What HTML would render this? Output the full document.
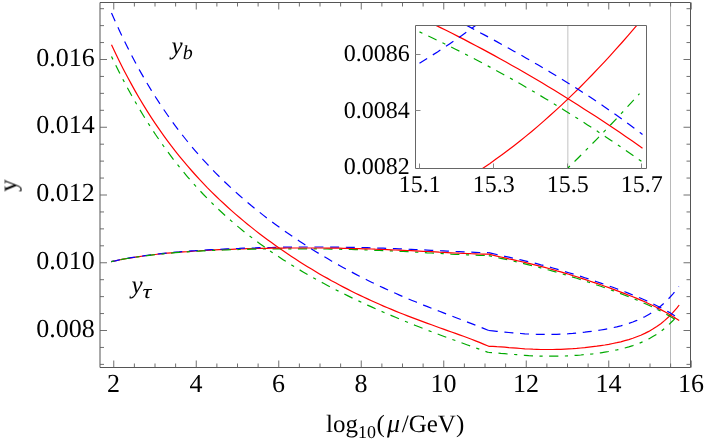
<!DOCTYPE html>
<html><head><meta charset="utf-8"><title>plot</title>
<style>html,body{margin:0;padding:0;background:#fff}svg{display:block}.t{font-family:"Liberation Serif",serif;fill:#000;text-rendering:geometricPrecision;opacity:.999}</style></head>
<body>
<svg width="708" height="444" viewBox="0 0 708 444">
<rect width="708" height="444" fill="#fff"/>
<defs><clipPath id="cm"><rect x="100.0" y="2.5" width="590.5" height="365.0"/></clipPath>
<clipPath id="ci"><rect x="415.5" y="25.5" width="231.0" height="143.0"/></clipPath></defs>
<line x1="670.5" y1="2.5" x2="670.5" y2="367.5" stroke="#b8b8b8" stroke-width="1"/>
<g clip-path="url(#cm)" fill="none" stroke-width="1.20">
<path d="M111.5 44.7 115.5 53.3 119.5 61.5 123.5 69.4 127.5 77.0 131.5 84.4 135.5 91.6 139.5 98.5 143.5 105.1 147.5 111.6 151.5 117.8 155.5 123.8 159.5 129.7 163.5 135.3 167.5 140.8 171.5 146.2 175.5 151.3 179.5 156.3 183.5 161.2 187.5 165.9 191.5 170.5 195.5 175.0 199.5 179.4 203.5 183.6 207.5 187.8 211.5 191.8 215.5 195.7 219.5 199.6 223.5 203.3 227.5 207.0 231.5 210.6 235.5 214.1 239.5 217.5 243.5 220.9 247.5 224.2 251.5 227.4 255.5 230.6 259.5 233.7 263.5 236.7 267.5 239.7 271.5 242.6 275.5 245.5 279.5 248.3 283.5 251.1 287.5 253.8 291.5 256.5 295.5 259.1 299.5 261.7 303.5 264.2 307.5 266.7 311.5 269.1 315.5 271.5 319.5 273.9 323.5 276.2 327.5 278.4 331.5 280.7 335.5 282.8 339.5 285.0 343.5 287.1 347.5 289.1 351.5 291.2 355.5 293.2 359.5 295.1 363.5 297.0 367.5 298.9 371.5 300.7 375.5 302.5 379.5 304.3 383.5 306.1 387.5 307.8 391.5 309.4 395.5 311.1 399.5 312.7 403.5 314.3 407.5 315.9 411.5 317.4 415.5 318.9 419.5 320.4 423.5 321.9 427.5 323.4 431.5 324.8 435.5 326.3 439.5 327.7 443.5 329.1 447.5 330.6 451.5 332.0 455.5 333.4 459.5 334.9 463.5 336.3 467.5 337.8 471.5 339.3 475.5 340.9 479.5 342.4 483.5 344.1 487.5 345.7 488.8 346.3 492.8 346.4 496.8 346.7 500.8 346.9 504.8 347.2 508.8 347.6 512.8 347.9 516.8 348.2 520.8 348.5 524.8 348.8 528.8 349.0 532.8 349.2 536.8 349.3 540.8 349.5 544.8 349.5 548.8 349.5 552.8 349.5 556.8 349.4 560.8 349.3 564.8 349.1 568.8 348.9 572.8 348.7 576.8 348.4 580.8 348.0 584.8 347.7 588.8 347.2 592.8 346.7 596.8 346.2 600.8 345.6 604.8 345.0 608.8 344.3 612.8 343.5 616.8 342.7 620.8 341.8 624.8 340.7 628.8 339.6 632.8 338.3 636.8 336.8 640.8 335.2 644.8 333.4 648.8 331.4 652.8 329.1 656.8 326.5 660.8 323.7 664.8 320.4 668.8 316.8 672.8 312.7 676.8 308.2 679.2 305.0" stroke="#ff0000" stroke-linejoin="round"/>
<path d="M111.5 13.0 115.5 22.0 119.5 30.8 123.5 39.2 127.5 47.3 131.5 55.2 135.5 62.7 139.5 70.1 143.5 77.1 147.5 84.0 151.5 90.6 155.5 97.0 159.5 103.2 163.5 109.2 167.5 115.0 171.5 120.6 175.5 126.1 179.5 131.4 183.5 136.5 187.5 141.5 191.5 146.4 195.5 151.1 199.5 155.6 203.5 160.1 207.5 164.4 211.5 168.7 215.5 172.8 219.5 176.8 223.5 180.7 227.5 184.5 231.5 188.3 235.5 191.9 239.5 195.5 243.5 199.0 247.5 202.4 251.5 205.8 255.5 209.0 259.5 212.2 263.5 215.4 267.5 218.5 271.5 221.5 275.5 224.5 279.5 227.4 283.5 230.2 287.5 233.1 291.5 235.8 295.5 238.5 299.5 241.2 303.5 243.8 307.5 246.4 311.5 248.9 315.5 251.4 319.5 253.9 323.5 256.3 327.5 258.6 331.5 261.0 335.5 263.2 339.5 265.5 343.5 267.7 347.5 269.9 351.5 272.0 355.5 274.1 359.5 276.2 363.5 278.2 367.5 280.2 371.5 282.2 375.5 284.1 379.5 286.0 383.5 287.9 387.5 289.7 391.5 291.5 395.5 293.3 399.5 295.1 403.5 296.8 407.5 298.5 411.5 300.2 415.5 301.8 419.5 303.4 423.5 305.1 427.5 306.6 431.5 308.2 435.5 309.8 439.5 311.3 443.5 312.9 447.5 314.4 451.5 315.9 455.5 317.5 459.5 319.0 463.5 320.5 467.5 322.1 471.5 323.6 475.5 325.2 479.5 326.7 483.5 328.4 487.5 330.0 488.8 330.5" stroke="#0000ff" stroke-dasharray="9 6.7"/>
<path d="M488.8 330.5 492.8 330.9 496.8 331.3 500.8 331.7 504.8 332.1 508.8 332.5 512.8 332.9 516.8 333.2 520.8 333.5 524.8 333.8 528.8 334.0 532.8 334.2 536.8 334.3 540.8 334.4 544.8 334.4 548.8 334.4 552.8 334.4 556.8 334.3 560.8 334.1 564.8 333.9 568.8 333.7 572.8 333.4 576.8 333.0 580.8 332.6 584.8 332.2 588.8 331.7 592.8 331.2 596.8 330.7 600.8 330.0 604.8 329.3 608.8 328.6 612.8 327.7 616.8 326.8 620.8 325.8 624.8 324.7 628.8 323.4 632.8 322.0 636.8 320.4 640.8 318.6 644.8 316.7 648.8 314.4 652.8 312.0 656.8 309.2 660.8 306.0 664.8 302.5 668.8 298.5 672.8 294.1 676.8 289.2 678.8 286.5" stroke="#0000ff" stroke-dasharray="9 6.7"/>
<path d="M111.5 56.5 115.5 64.7 119.5 72.7 123.5 80.5 127.5 88.0 131.5 95.3 135.5 102.3 139.5 109.1 143.5 115.8 147.5 122.2 151.5 128.4 155.5 134.5 159.5 140.3 163.5 146.0 167.5 151.5 171.5 156.9 175.5 162.1 179.5 167.1 183.5 172.0 187.5 176.8 191.5 181.4 195.5 185.9 199.5 190.2 203.5 194.5 207.5 198.6 211.5 202.6 215.5 206.5 219.5 210.3 223.5 214.0 227.5 217.6 231.5 221.1 235.5 224.6 239.5 227.9 243.5 231.2 247.5 234.3 251.5 237.4 255.5 240.5 259.5 243.4 263.5 246.3 267.5 249.2 271.5 251.9 275.5 254.6 279.5 257.3 283.5 259.9 287.5 262.4 291.5 264.9 295.5 267.4 299.5 269.8 303.5 272.2 307.5 274.5 311.5 276.7 315.5 279.0 319.5 281.2 323.5 283.3 327.5 285.5 331.5 287.6 335.5 289.6 339.5 291.6 343.5 293.6 347.5 295.6 351.5 297.6 355.5 299.5 359.5 301.4 363.5 303.2 367.5 305.1 371.5 306.9 375.5 308.7 379.5 310.4 383.5 312.2 387.5 313.9 391.5 315.6 395.5 317.3 399.5 319.0 403.5 320.6 407.5 322.2 411.5 323.9 415.5 325.5 419.5 327.0 423.5 328.6 427.5 330.2 431.5 331.7 435.5 333.2 439.5 334.7 443.5 336.2 447.5 337.7 451.5 339.2 455.5 340.6 459.5 342.1 463.5 343.5 467.5 345.0 471.5 346.4 475.5 347.8 479.5 349.2 483.5 350.7 487.5 352.1 488.8 352.5" stroke="#00aa00" stroke-dasharray="3.2 6.5 9.2 6.5"/>
<path d="M488.8 352.5 492.8 352.7 496.8 353.0 500.8 353.4 504.8 353.7 508.8 354.1 512.8 354.4 516.8 354.7 520.8 355.1 524.8 355.3 528.8 355.6 532.8 355.8 536.8 356.0 540.8 356.1 544.8 356.2 548.8 356.2 552.8 356.2 556.8 356.2 560.8 356.1 564.8 356.0 568.8 355.8 572.8 355.6 576.8 355.3 580.8 355.0 584.8 354.6 588.8 354.2 592.8 353.8 596.8 353.3 600.8 352.8 604.8 352.1 608.8 351.5 612.8 350.7 616.8 349.9 620.8 349.0 624.8 348.0 628.8 346.9 632.8 345.6 636.8 344.2 640.8 342.6 644.8 340.9 648.8 338.9 652.8 336.6 656.8 334.2 660.8 331.4 664.8 328.2 668.8 324.7 672.8 320.8 676.8 316.4 678.2 314.7" stroke="#00aa00" stroke-dasharray="3.2 6.5 9.2 6.5"/>
<path d="M111.2 261.6 115.2 260.8 119.2 260.0 123.2 259.2 127.2 258.5 131.2 257.8 135.2 257.2 139.2 256.6 143.2 256.0 147.2 255.5 151.2 255.0 155.2 254.5 159.2 254.0 163.2 253.6 167.2 253.2 171.2 252.8 175.2 252.5 179.2 252.2 183.2 251.8 187.2 251.6 191.2 251.3 195.2 251.0 199.2 250.8 203.2 250.5 207.2 250.3 211.2 250.1 215.2 249.9 219.2 249.7 223.2 249.6 227.2 249.4 231.2 249.3 235.2 249.1 239.2 249.0 243.2 248.9 247.2 248.7 251.2 248.6 255.2 248.5 259.2 248.4 263.2 248.4" stroke="#ff0000" stroke-linejoin="round"/>
<path d="M111.2 261.6 115.2 260.8 119.2 259.9 123.2 259.1 127.2 258.4 131.2 257.7 135.2 257.1 139.2 256.4 143.2 255.9 147.2 255.3 151.2 254.8 155.2 254.3 159.2 253.8 163.2 253.4 167.2 253.0 171.2 252.6 175.2 252.2 179.2 251.9 183.2 251.5 187.2 251.2 191.2 250.9 195.2 250.7 199.2 250.4 203.2 250.1 207.2 249.9 211.2 249.7 215.2 249.5 219.2 249.3 223.2 249.1 227.2 248.9 231.2 248.7 235.2 248.5 239.2 248.4 243.2 248.2 247.2 248.1 251.2 248.0 255.2 247.9 259.2 247.7 263.2 247.6 267.2 247.5 271.2 247.5 275.2 247.4 279.2 247.3 283.2 247.2 287.2 247.2 291.2 247.1 295.2 247.1 299.2 247.0 303.2 247.0 307.2 247.0 311.2 247.0 315.2 247.0 319.2 247.0 323.2 247.0 327.2 247.0 331.2 247.1 335.2 247.1 339.2 247.1 343.2 247.2 347.2 247.3 351.2 247.4 355.2 247.4 359.2 247.5 363.2 247.6 367.2 247.7 371.2 247.8 375.2 248.0 379.2 248.1 383.2 248.2 387.2 248.4 391.2 248.5 395.2 248.7 399.2 248.9 403.2 249.0 407.2 249.2 411.2 249.4 415.2 249.6 419.2 249.8 423.2 249.9 427.2 250.1 431.2 250.3 435.2 250.5 439.2 250.7 443.2 250.9 447.2 251.1 451.2 251.3 455.2 251.5 459.2 251.7 463.2 251.9 467.2 252.0 471.2 252.2 475.2 252.3 479.2 252.5 483.2 252.6 487.2 252.7 488.8 252.7" stroke="#0000ff" stroke-dasharray="9 6.7"/>
<path d="M488.8 252.7 492.8 253.6 496.8 254.5 500.8 255.4 504.8 256.3 508.8 257.2 512.8 258.1 516.8 259.0 520.8 259.9 524.8 260.8 528.8 261.8 532.8 262.7 536.8 263.7 540.8 264.8 544.8 265.8 548.8 266.9 552.8 268.0 556.8 269.1 560.8 270.3 564.8 271.5 568.8 272.7 572.8 273.9 576.8 275.1 580.8 276.4 584.8 277.7 588.8 279.0 592.8 280.4 596.8 281.7 600.8 283.1 604.8 284.5 608.8 285.9 612.8 287.3 616.8 288.8 620.8 290.3 624.8 291.8 628.8 293.4 632.8 295.0 636.8 296.6 640.8 298.3 644.8 300.0 648.8 301.8 652.8 303.7 656.8 305.7 660.8 307.7 664.8 309.9 668.8 312.1 672.8 314.5 676.8 317.1 679.2 318.8" stroke="#0000ff" stroke-dasharray="9 6.7"/>
<path d="M111.2 261.6 115.2 260.8 119.2 260.0 123.2 259.2 127.2 258.5 131.2 257.9 135.2 257.3 139.2 256.7 143.2 256.1 147.2 255.6 151.2 255.1 155.2 254.6 159.2 254.2 163.2 253.8 167.2 253.4 171.2 253.1 175.2 252.7 179.2 252.4 183.2 252.1 187.2 251.8 191.2 251.6 195.2 251.3 199.2 251.1 203.2 250.9 207.2 250.7 211.2 250.5 215.2 250.3 219.2 250.2 223.2 250.0 227.2 249.9 231.2 249.7 235.2 249.6 239.2 249.5 243.2 249.4 247.2 249.3 251.2 249.2 255.2 249.1 259.2 249.1 263.2 249.0 267.2 249.0 271.2 248.9 275.2 248.9 279.2 248.8 283.2 248.8 287.2 248.8 291.2 248.8 295.2 248.8 299.2 248.8 303.2 248.8 307.2 248.8 311.2 248.9 315.2 248.9 319.2 248.9 323.2 249.0 327.2 249.0 331.2 249.1 335.2 249.1 339.2 249.2 343.2 249.3 347.2 249.4 351.2 249.5 355.2 249.6 359.2 249.7 363.2 249.8 367.2 250.0 371.2 250.1 375.2 250.3 379.2 250.4 383.2 250.6 387.2 250.7 391.2 250.9 395.2 251.1 399.2 251.3 403.2 251.5 407.2 251.7 411.2 251.9 415.2 252.1 419.2 252.3 423.2 252.5 427.2 252.8 431.2 253.0 435.2 253.2 439.2 253.4 443.2 253.6 447.2 253.8 451.2 254.1 455.2 254.3 459.2 254.5 463.2 254.6 467.2 254.8 471.2 255.0 475.2 255.2 479.2 255.3 483.2 255.4 487.2 255.6 488.8 255.6" stroke="#00aa00" stroke-dasharray="3.2 6.5 9.2 6.5"/>
<path d="M488.8 255.6 492.8 256.5 496.8 257.4 500.8 258.3 504.8 259.2 508.8 260.1 512.8 261.0 516.8 261.9 520.8 262.9 524.8 263.8 528.8 264.8 532.8 265.8 536.8 266.8 540.8 267.8 544.8 268.9 548.8 270.0 552.8 271.1 556.8 272.2 560.8 273.4 564.8 274.6 568.8 275.8 572.8 277.1 576.8 278.3 580.8 279.6 584.8 280.9 588.8 282.2 592.8 283.6 596.8 285.0 600.8 286.3 604.8 287.8 608.8 289.2 612.8 290.6 616.8 292.1 620.8 293.6 624.8 295.2 628.8 296.7 632.8 298.3 636.8 300.0 640.8 301.7 644.8 303.5 648.8 305.3 652.8 307.2 656.8 309.1 660.8 311.2 664.8 313.4 668.8 315.6 672.8 318.1 676.8 320.6 679.2 322.3" stroke="#00aa00" stroke-dasharray="3.2 6.5 9.2 6.5"/>
<path d="M263.2 248.4 267.2 248.3 271.2 248.2 275.2 248.2 279.2 248.1 283.2 248.1 287.2 248.0 291.2 248.0 295.2 248.0 299.2 248.0 303.2 248.0 307.2 248.0 311.2 248.0 315.2 248.0 319.2 248.0 323.2 248.0 327.2 248.1 331.2 248.1 335.2 248.2 339.2 248.2 343.2 248.3 347.2 248.4 351.2 248.5 355.2 248.6 359.2 248.7 363.2 248.8 367.2 248.9 371.2 249.0 375.2 249.2 379.2 249.3 383.2 249.5 387.2 249.6 391.2 249.8 395.2 250.0 399.2 250.1 403.2 250.3 407.2 250.5 411.2 250.7 415.2 250.9 419.2 251.1 423.2 251.3 427.2 251.5 431.2 251.7 435.2 251.9 439.2 252.2 443.2 252.4 447.2 252.6 451.2 252.8 455.2 253.0 459.2 253.2 463.2 253.3 467.2 253.5 471.2 253.7 475.2 253.8 479.2 254.0 483.2 254.1 487.2 254.2 488.8 254.2 492.8 255.2 496.8 256.1 500.8 257.0 504.8 257.9 508.8 258.8 512.8 259.6 516.8 260.6 520.8 261.5 524.8 262.4 528.8 263.4 532.8 264.4 536.8 265.4 540.8 266.4 544.8 267.4 548.8 268.5 552.8 269.6 556.8 270.8 560.8 271.9 564.8 273.1 568.8 274.3 572.8 275.6 576.8 276.8 580.8 278.1 584.8 279.4 588.8 280.7 592.8 282.1 596.8 283.4 600.8 284.8 604.8 286.2 608.8 287.6 612.8 289.1 616.8 290.6 620.8 292.1 624.8 293.6 628.8 295.2 632.8 296.8 636.8 298.4 640.8 300.1 644.8 301.8 648.8 303.7 652.8 305.5 656.8 307.5 660.8 309.6 664.8 311.7 668.8 314.0 672.8 316.4 676.8 319.0 679.2 320.6" stroke="#ff0000" stroke-linejoin="round"/>
</g>
<g stroke="#555" stroke-width="1" fill="none">
<path d="M100.0 2.5 H690.5 V367.5 H100.0 Z"/>
<path d="M113.75 367.5 v-7 M113.75 2.5 v7 M134.38 367.5 v-4 M134.38 2.5 v4 M155.00 367.5 v-4 M155.00 2.5 v4 M175.62 367.5 v-4 M175.62 2.5 v4 M196.25 367.5 v-7 M196.25 2.5 v7 M216.88 367.5 v-4 M216.88 2.5 v4 M237.50 367.5 v-4 M237.50 2.5 v4 M258.12 367.5 v-4 M258.12 2.5 v4 M278.75 367.5 v-7 M278.75 2.5 v7 M299.38 367.5 v-4 M299.38 2.5 v4 M320.00 367.5 v-4 M320.00 2.5 v4 M340.62 367.5 v-4 M340.62 2.5 v4 M361.25 367.5 v-7 M361.25 2.5 v7 M381.88 367.5 v-4 M381.88 2.5 v4 M402.50 367.5 v-4 M402.50 2.5 v4 M423.12 367.5 v-4 M423.12 2.5 v4 M443.75 367.5 v-7 M443.75 2.5 v7 M464.38 367.5 v-4 M464.38 2.5 v4 M485.00 367.5 v-4 M485.00 2.5 v4 M505.62 367.5 v-4 M505.62 2.5 v4 M526.25 367.5 v-7 M526.25 2.5 v7 M546.88 367.5 v-4 M546.88 2.5 v4 M567.50 367.5 v-4 M567.50 2.5 v4 M588.12 367.5 v-4 M588.12 2.5 v4 M608.75 367.5 v-7 M608.75 2.5 v7 M629.38 367.5 v-4 M629.38 2.5 v4 M650.00 367.5 v-4 M650.00 2.5 v4 M670.62 367.5 v-4 M670.62 2.5 v4 M691.25 367.5 v-7 M691.25 2.5 v7 M100.0 364.38 h4 M690.5 364.38 h-4 M100.0 347.44 h4 M690.5 347.44 h-4 M100.0 330.50 h7 M690.5 330.50 h-7 M100.0 313.56 h4 M690.5 313.56 h-4 M100.0 296.62 h4 M690.5 296.62 h-4 M100.0 279.69 h4 M690.5 279.69 h-4 M100.0 262.75 h7 M690.5 262.75 h-7 M100.0 245.81 h4 M690.5 245.81 h-4 M100.0 228.87 h4 M690.5 228.87 h-4 M100.0 211.94 h4 M690.5 211.94 h-4 M100.0 195.00 h7 M690.5 195.00 h-7 M100.0 178.06 h4 M690.5 178.06 h-4 M100.0 161.12 h4 M690.5 161.12 h-4 M100.0 144.19 h4 M690.5 144.19 h-4 M100.0 127.25 h7 M690.5 127.25 h-7 M100.0 110.31 h4 M690.5 110.31 h-4 M100.0 93.37 h4 M690.5 93.37 h-4 M100.0 76.44 h4 M690.5 76.44 h-4 M100.0 59.50 h7 M690.5 59.50 h-7 M100.0 42.56 h4 M690.5 42.56 h-4 M100.0 25.62 h4 M690.5 25.62 h-4 M100.0 8.69 h4 M690.5 8.69 h-4 " stroke="#606060" stroke-width="0.9"/>
</g>
<g class="t">
<text x="113.50" y="392.2" font-size="26" text-anchor="middle">2</text>
<text x="196.00" y="392.2" font-size="26" text-anchor="middle">4</text>
<text x="278.50" y="392.2" font-size="26" text-anchor="middle">6</text>
<text x="361.00" y="392.2" font-size="26" text-anchor="middle">8</text>
<text x="443.50" y="392.2" font-size="26" text-anchor="middle">10</text>
<text x="526.00" y="392.2" font-size="26" text-anchor="middle">12</text>
<text x="608.50" y="392.2" font-size="26" text-anchor="middle">14</text>
<text x="691.00" y="392.2" font-size="26" text-anchor="middle">16</text>
<text x="94.7" y="336.6" font-size="26" text-anchor="end">0.008</text>
<text x="94.7" y="268.9" font-size="26" text-anchor="end">0.010</text>
<text x="94.7" y="201.1" font-size="26" text-anchor="end">0.012</text>
<text x="94.7" y="133.3" font-size="26" text-anchor="end">0.014</text>
<text x="94.7" y="65.6" font-size="26" text-anchor="end">0.016</text>
<text y="432" font-size="25"><tspan x="326">log</tspan><tspan font-size="18" dy="6.3">10</tspan><tspan dy="-6.3" dx="0.6">(</tspan><tspan font-style="italic" font-size="26" dx="2.2">μ</tspan><tspan dx="1.6">/GeV)</tspan></text>
<text transform="translate(16.3 185.5) rotate(-90)" font-size="25" text-anchor="middle">y</text>
<text x="171.4" y="54.1" font-size="25" font-style="italic">y<tspan font-size="20" dy="4.8" dx="0.2">b</tspan></text>
<text x="131.4" y="293.4" font-size="25" font-style="italic">y</text>
<text transform="translate(142.5 298) scale(1.38 1.08)" font-size="18" font-style="italic">τ</text>
</g>
<line x1="567.85" y1="25.5" x2="567.85" y2="168.5" stroke="#a0a0a0" stroke-width="0.65"/>
<g clip-path="url(#ci)" fill="none" stroke-width="1.20">
<path d="M416 15.9 422 18.7 428 21.6 434 24.4 440 27.4 446 30.3 452 33.3 458 36.4 464 39.4 470 42.6 476 45.7 482 48.9 488 52.1 494 55.4 500 58.7 506 62.0 512 65.4 518 68.8 524 72.3 530 75.8 536 79.3 542 82.8 548 86.5 554 90.1 560 93.8 566 97.5 572 101.2 578 105.0 584 108.9 590 112.7 596 116.6 602 120.6 608 124.6 614 128.6 620 132.6 626 136.7 632 140.8 638 145.0 642.5 148.2" stroke="#ff0000"/>
<path d="M478 171.5 484 167.5 490 163.4 496 159.1 502 154.8 508 150.3 514 145.7 520 141.0 526 136.1 532 131.2 538 126.1 544 120.9 550 115.5 556 110.1 562 104.6 568 98.9 574 93.1 580 87.2 586 81.1 592 75.0 598 68.7 604 62.4 610 55.9 616 49.2 622 42.5 628 35.7 634 28.7 640 21.6" stroke="#ff0000"/>
<path d="M466.3 25.2 472.3 28.4 478.3 31.7 484.3 34.9 490.3 38.1 496.3 41.4 502.3 44.7 508.3 48.0 514.3 51.4 520.3 54.7 526.3 58.2 532.3 61.6 538.3 65.1 544.3 68.6 550.3 72.2 556.3 75.8 562.3 79.5 568.3 83.2 574.3 87.0 580.3 90.8 586.3 94.7 592.3 98.6 598.3 102.6 604.3 106.7 610.3 110.9 616.3 115.1 622.3 119.4 628.3 123.8 634.3 128.2 640.3 132.8 642.5 134.5" stroke="#0000ff" stroke-dasharray="9 6.7"/>
<path d="M419.5 63.2 425.5 59.5 431.5 55.7 437.5 51.9 443.5 47.9 449.5 43.9 455.5 39.8 461.5 35.7 467.5 31.4 473.5 27.1 479.5 22.6 480 22.3" stroke="#0000ff" stroke-dasharray="9 6.7"/>
<path d="M419.5 31.9 425.5 34.7 431.5 37.5 437.5 40.4 443.5 43.3 449.5 46.2 455.5 49.2 461.5 52.2 467.5 55.3 473.5 58.4 479.5 61.5 485.5 64.7 491.5 67.9 497.5 71.2 503.5 74.5 509.5 77.8 515.5 81.2 521.5 84.6 527.5 88.1 533.5 91.6 539.5 95.1 545.5 98.7 551.5 102.3 557.5 106.0 563.5 109.7 569.5 113.4 575.5 117.2 581.5 121.0 587.5 124.9 593.5 128.7 599.5 132.7 605.5 136.7 611.5 140.7 617.5 144.7 623.5 148.8 629.5 152.9 635.5 157.1 641.5 161.3 642.5 162.0" stroke="#00aa00" stroke-dasharray="3.2 6.5 9.2 6.5"/>
<path d="M567.6 168.2 573.6 162.4 579.6 156.5 585.6 150.5 591.6 144.4 597.6 138.3 603.6 132.1 609.6 125.9 615.6 119.6 621.6 113.2 627.6 106.7 633.6 100.2 639.5 93.7" stroke="#00aa00" stroke-dasharray="3.2 6.5 9.2 6.5"/>
</g>
<g stroke="#666" stroke-width="1" fill="none">
<path d="M415.5 25.5 H646.5 V168.5 H415.5 Z"/>
<path d="M419.5 168.5 v-5 M493.5 168.5 v-5 M567.5 168.5 v-5 M641.5 168.5 v-5 M415.5 110.5 h5 M415.5 54.5 h5 " stroke="#888"/>
</g>
<g class="t" font-size="24">
<text x="419.8" y="192.2" text-anchor="middle">15.1</text>
<text x="493.8" y="192.2" text-anchor="middle">15.3</text>
<text x="567.8" y="192.2" text-anchor="middle">15.5</text>
<text x="641.8" y="192.2" text-anchor="middle">15.7</text>
<text x="409.8" y="174.2" text-anchor="end">0.0082</text>
<text x="409.8" y="117.8" text-anchor="end">0.0084</text>
<text x="409.8" y="61.2" text-anchor="end">0.0086</text>
</g>
</svg>
</body></html>
